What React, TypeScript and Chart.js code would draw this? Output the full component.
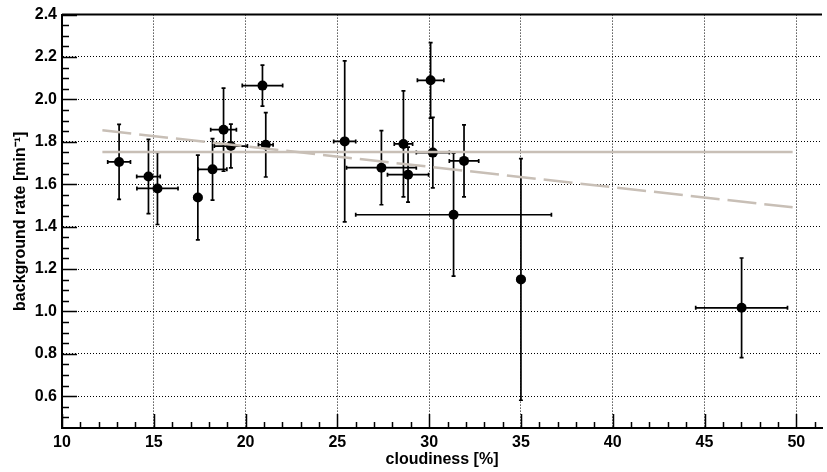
import React, { useEffect, useRef } from 'react';
import { Chart, registerables } from 'chart.js';

Chart.register(...registerables);

// ---- data ----
const xTickValues = [10, 15, 20, 25, 30, 35, 40, 45, 50];
const yTickValues = [0.6, 0.8, 1.0, 1.2, 1.4, 1.6, 1.8, 2.0, 2.2, 2.4];

const cloudiness = [13.11, 14.71, 15.2, 17.4, 18.2, 18.8, 19.2, 20.92, 21.1, 25.4, 27.4, 28.6, 28.85, 30.08, 30.2, 31.33, 31.9, 35.0, 47.02];
const cloudinessErr = [0.62, 0.64, 1.12, 0.2, 0.78, 0.7, 0.9, 1.1, 0.4, 0.6, 1.9, 0.5, 1.12, 0.72, 0.9, 5.33, 0.8, 0.2, 2.5];
const bgRate = [1.705, 1.636, 1.58, 1.537, 1.67, 1.857, 1.78, 2.065, 1.786, 1.802, 1.678, 1.79, 1.645, 2.09, 1.749, 1.456, 1.71, 1.151, 1.017];
const bgRateErr = [0.177, 0.175, 0.17, 0.2, 0.145, 0.196, 0.103, 0.097, 0.152, 0.38, 0.175, 0.25, 0.13, 0.178, 0.166, 0.29, 0.17, 0.57, 0.235];

const constFitX = [12.2, 49.8];
const constFitY = [1.752, 1.752];
const linFitX = [12.2, 49.8];
const linFitY = [1.854, 1.491];

const X_MIN = 10;
const X_MAX = 51.4;
const Y_MIN = 0.45;
const Y_MAX = 2.4;

const FONT = "'Liberation Sans', Arial, Helvetica, sans-serif";
const FIT_COLOR = '#c8bfb6';

const errorBarPlugin = {
  id: 'errorBars',
  beforeDatasetsDraw(chart: any) {
    const { ctx, scales } = chart;
    const xs = scales.x;
    const ys = scales.y;
    ctx.save();
    ctx.strokeStyle = '#000';
    ctx.lineWidth = 1.7;
    const cap = 2;
    for (let i = 0; i < cloudiness.length; i++) {
      const px = xs.getPixelForValue(cloudiness[i]);
      const py = ys.getPixelForValue(bgRate[i]);
      const xl = xs.getPixelForValue(cloudiness[i] - cloudinessErr[i]);
      const xr = xs.getPixelForValue(cloudiness[i] + cloudinessErr[i]);
      const yt = ys.getPixelForValue(bgRate[i] + bgRateErr[i]);
      const yb = ys.getPixelForValue(bgRate[i] - bgRateErr[i]);
      ctx.beginPath();
      ctx.moveTo(xl, py); ctx.lineTo(xr, py);
      ctx.moveTo(px, yt); ctx.lineTo(px, yb);
      ctx.moveTo(xl, py - cap); ctx.lineTo(xl, py + cap);
      ctx.moveTo(xr, py - cap); ctx.lineTo(xr, py + cap);
      ctx.moveTo(px - cap, yt); ctx.lineTo(px + cap, yt);
      ctx.moveTo(px - cap, yb); ctx.lineTo(px + cap, yb);
      ctx.stroke();
    }
    ctx.restore();
  },
};

const axisTicksPlugin = {
  id: 'axisTicks',
  afterDraw(chart: any) {
    const { ctx, scales, chartArea } = chart;
    const xs = scales.x;
    const ys = scales.y;
    ctx.save();
    ctx.strokeStyle = '#000';
    ctx.lineWidth = 1.5;
    ctx.beginPath();
    // x ticks (inside)
    for (let v = 10; v <= 51; v += 1) {
      const px = Math.round(xs.getPixelForValue(v)) + 0.5;
      const len = v % 5 === 0 ? 14 : 6;
      ctx.moveTo(px, chartArea.bottom);
      ctx.lineTo(px, chartArea.bottom - len);
    }
    // y ticks (inside)
    for (let k = 10; k <= 48; k += 1) {
      const v = k * 0.05;
      if (v < Y_MIN - 1e-9 || v > Y_MAX + 1e-9) continue;
      const py = Math.round(ys.getPixelForValue(v)) + 0.5;
      const len = k % 4 === 0 ? 15 : 7;
      ctx.moveTo(chartArea.left, py);
      ctx.lineTo(chartArea.left + len, py);
    }
    ctx.stroke();
    // top frame
    ctx.lineWidth = 2;
    ctx.beginPath();
    ctx.moveTo(chartArea.left, chartArea.top);
    ctx.lineTo(chartArea.right, chartArea.top);
    ctx.stroke();
    ctx.restore();
  },
};

export default function App() {
  const canvasRef = useRef<HTMLCanvasElement | null>(null);

  useEffect(() => {
    const canvas = canvasRef.current;
    if (!canvas) return;

    const points = cloudiness.map((x, i) => ({ x, y: bgRate[i] }));
    const constLine = constFitX.map((x, i) => ({ x, y: constFitY[i] }));
    const linLine = linFitX.map((x, i) => ({ x, y: linFitY[i] }));

    const chart = new Chart(canvas, {
      type: 'scatter',
      data: {
        datasets: [
          {
            label: 'constant fit',
            data: constLine,
            showLine: true,
            pointRadius: 0,
            borderColor: FIT_COLOR,
            borderWidth: 2.5,
            order: 0,
          } as any,
          {
            label: 'linear fit',
            data: linLine,
            showLine: true,
            pointRadius: 0,
            borderColor: FIT_COLOR,
            borderWidth: 2.5,
            borderDash: [29, 8],
            order: 0,
          } as any,
          {
            label: 'background rate',
            data: points,
            pointRadius: 5,
            pointHoverRadius: 5,
            backgroundColor: '#000',
            borderWidth: 0,
            order: 1,
          } as any,
        ],
      },
      options: {
        responsive: false,
        animation: false,
        events: [],
        layout: { padding: { top: 12, right: 1, left: 0, bottom: 0 } },
        plugins: {
          legend: { display: false },
          tooltip: { enabled: false },
          title: { display: false },
        },
        scales: {
          x: {
            type: 'linear',
            min: X_MIN,
            max: X_MAX,
            afterFit(scale: any) { scale.height = 44; },
            afterBuildTicks(scale: any) { scale.ticks = xTickValues.map((v) => ({ value: v })); },
            ticks: {
              color: '#000',
              padding: 5,
              maxRotation: 0,
              autoSkip: false,
              font: { family: FONT, size: 16, weight: 'bold' },
              callback: (v: any) => String(v),
            },
            grid: { color: '#000', lineWidth: 1, drawTicks: false, tickLength: 0 },
            border: { display: true, color: '#000', width: 2, dash: [1, 2] },
            title: {
              display: true,
              text: 'cloudiness [%]',
              color: '#000',
              font: { family: FONT, size: 16, weight: 'bold' },
              padding: { top: 0, bottom: 3 },
            },
          },
          y: {
            type: 'linear',
            min: Y_MIN,
            max: Y_MAX,
            afterFit(scale: any) { scale.width = 62; },
            afterBuildTicks(scale: any) { scale.ticks = yTickValues.map((v) => ({ value: v })); },
            ticks: {
              color: '#000',
              padding: 5,
              autoSkip: false,
              font: { family: FONT, size: 16, weight: 'bold' },
              callback: (v: any) => Number(v).toFixed(1),
            },
            grid: { color: '#000', lineWidth: 1, drawTicks: false, tickLength: 0 },
            border: { display: true, color: '#000', width: 2, dash: [1, 2] },
            title: {
              display: true,
              text: 'background rate [min⁻¹]',
              color: '#000',
              font: { family: FONT, size: 16, weight: 'bold' },
              padding: { top: 11, bottom: 0 },
            },
          },
        },
      },
      plugins: [errorBarPlugin, axisTicksPlugin],
    } as any);

    return () => chart.destroy();
  }, []);

  return (
    <div style={{ position: 'absolute', left: 0, top: 0, width: 827, height: 472, background: '#fff' }}>
      <canvas ref={canvasRef} width={827} height={472} style={{ display: 'block', width: 827, height: 472 }} />
    </div>
  );
}
